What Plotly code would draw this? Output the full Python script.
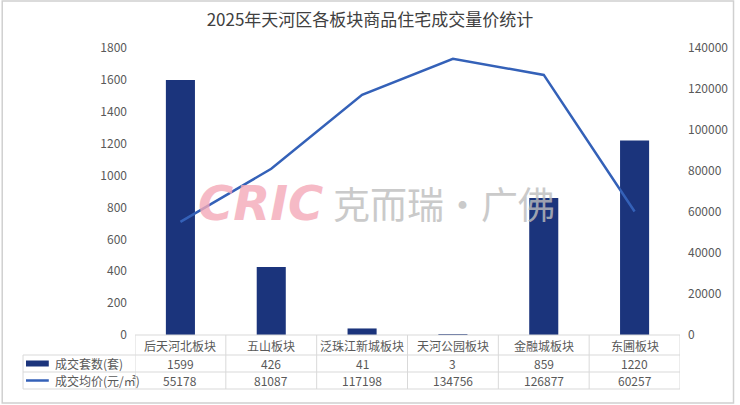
import plotly.graph_objects as go

# data
blocks = ["后天河北板块", "五山板块", "泛珠江新城板块", "天河公园板块", "金融城板块", "东圃板块"]
units = [1599, 426, 41, 3, 859, 1220]
avg_price = [55178, 81087, 117198, 134756, 126877, 60257]
series_names = ["成交套数(套)", "成交均价(元/㎡)"]
title_text = "2025年天河区各板块商品住宅成交量价统计"

W, H = 740, 405
L, R, T, B = 135, 55, 48, 70
FONT = "Noto Sans CJK SC"
BAR_COLOR = "#1b347c"
LINE_COLOR = "#3461b8"
GRID = "#d9d9d9"
TXT = "#595959"

plot_w = W - L - R
plot_h = H - T - B


def px_x(p):
    return (p - L) / plot_w


def px_y(p):
    return (H - B - p) / plot_h


fig = go.Figure()
fig.add_trace(go.Bar(x=blocks, y=units, name=series_names[0],
                     marker=dict(color=BAR_COLOR, line=dict(width=0)),
                     width=0.32, yaxis="y"))
fig.add_trace(go.Scatter(x=blocks, y=avg_price, name=series_names[1],
                         mode="lines", line=dict(color=LINE_COLOR, width=2.5),
                         yaxis="y2"))

shapes = []
annotations = []

# table rows (pixel y of borders)
row_top, row1, row2, row3 = H - B, 355, 372, 389
left_edge = 22
ln = dict(color=GRID, width=1)

# horizontal lines
shapes.append(dict(type="line", xref="paper", yref="paper",
                   x0=0, x1=1, y0=px_y(row_top), y1=px_y(row_top), line=ln))
for ry in (row1, row2, row3):
    shapes.append(dict(type="line", xref="paper", yref="paper",
                       x0=px_x(left_edge), x1=1, y0=px_y(ry), y1=px_y(ry), line=ln))
# vertical lines
shapes.append(dict(type="line", xref="paper", yref="paper",
                   x0=px_x(left_edge), x1=px_x(left_edge), y0=px_y(row1), y1=px_y(row3), line=ln))
for i in range(len(blocks) + 1):
    shapes.append(dict(type="line", xref="x", yref="paper",
                       x0=i - 0.5, x1=i - 0.5, y0=px_y(row_top), y1=px_y(row3), line=ln))

# legend keys in first column
k0, k1 = px_x(25), px_x(48)
yc1 = px_y((row1 + row2) / 2)
yc2 = px_y((row2 + row3) / 2)
shapes.append(dict(type="rect", xref="paper", yref="paper", x0=k0, x1=k1,
                   y0=yc1 - 3 / plot_h, y1=yc1 + 3 / plot_h,
                   fillcolor=BAR_COLOR, line=dict(width=0)))
shapes.append(dict(type="line", xref="paper", yref="paper", x0=k0, x1=k1,
                   y0=yc2, y1=yc2, line=dict(color=LINE_COLOR, width=2.5)))

tfont = dict(family=FONT, size=12, color=TXT)
for name, yc in zip(series_names, (yc1, yc2)):
    annotations.append(dict(text=name, xref="paper", yref="paper", x=px_x(52), y=yc,
                            xanchor="left", yanchor="middle", showarrow=False, font=tfont))

yh = px_y((row_top + row1) / 2)
for b, u, p in zip(blocks, units, avg_price):
    annotations.append(dict(text=b, xref="x", yref="paper", x=b, y=yh,
                            showarrow=False, font=tfont, yanchor="middle"))
    annotations.append(dict(text=str(u), xref="x", yref="paper", x=b, y=yc1,
                            showarrow=False, font=tfont, yanchor="middle"))
    annotations.append(dict(text=str(p), xref="x", yref="paper", x=b, y=yc2,
                            showarrow=False, font=tfont, yanchor="middle"))

# watermark
annotations.append(dict(text="<b><i>CRIC</i></b>", xref="paper", yref="paper",
                        x=px_x(327), y=px_y(203), xanchor="right", yanchor="middle",
                        showarrow=False, opacity=0.8,
                        font=dict(family="DejaVu Sans", size=48, color="#f4a9b8")))
annotations.append(dict(text="克而瑞·广佛", xref="paper", yref="paper",
                        x=px_x(333), y=px_y(203), xanchor="left", yanchor="middle",
                        showarrow=False, opacity=0.8,
                        font=dict(family=FONT, size=37, color="#bdbdbd")))

# outer frame
shapes.append(dict(type="rect", xref="paper", yref="paper",
                   x0=px_x(1), x1=px_x(739), y0=px_y(403), y1=px_y(1),
                   line=dict(color="#d0d0d0", width=1.5), layer="below"))

fig.update_layout(
    width=W, height=H,
    margin=dict(l=L, r=R, t=T, b=B),
    paper_bgcolor="white", plot_bgcolor="white",
    showlegend=False,
    title=dict(text=title_text, x=0.5, xref="container", xanchor="center",
               y=1 - 20 / H, yanchor="middle",
               font=dict(family=FONT, size=17, color="#404040")),
    font=dict(family=FONT, size=12, color=TXT),
    xaxis=dict(type="category", range=[-0.5, 5.5], showticklabels=False,
               showgrid=False, zeroline=False, showline=False, ticks=""),
    yaxis=dict(range=[0, 1800], dtick=200, showgrid=False, zeroline=False,
               showline=False, ticks="", tickfont=dict(size=12, color=TXT),
               ticklabelstandoff=7),
    yaxis2=dict(range=[0, 140000], dtick=20000, overlaying="y", side="right",
                showgrid=False, zeroline=False, showline=False, ticks="",
                tickformat="d", tickfont=dict(size=12, color=TXT),
                ticklabelstandoff=7),
    shapes=shapes,
    annotations=annotations,
)

fig.write_html("out.html", config={"displayModeBar": False},
               post_script="document.body.style.margin='0';document.body.style.overflow='hidden';")
